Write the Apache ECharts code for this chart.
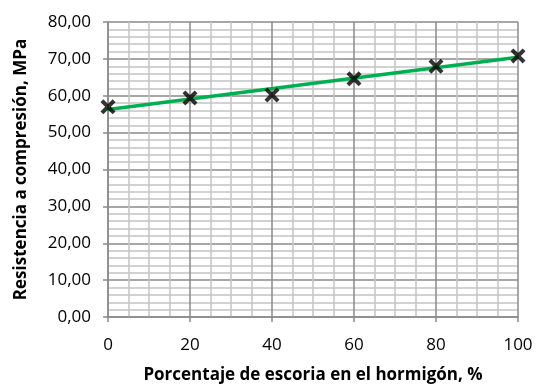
<!DOCTYPE html>
<html>
<head>
<meta charset="utf-8">
<script src="https://cdn.jsdelivr.net/npm/echarts@6/dist/echarts.min.js"></script>
<style>
  html, body { margin: 0; padding: 0; background: #fff; }
  #chart { width: 539px; height: 389px; }
</style>
</head>
<body>
<div id="chart"></div>
<script>
// Slag content in the concrete (%) and measured compressive strength (MPa)
const slagPercent = [0, 20, 40, 60, 80, 100];
const strengthMPa = [57.0, 59.4, 60.2, 64.6, 68.0, 70.8];

const xTitle = 'Porcentaje de escoria en el hormigón, %';
const yTitle = 'Resistencia a compresión, MPa';

// Least-squares linear trendline through the measured points
function linearFit(xs, ys) {
  const n = xs.length;
  const mx = xs.reduce((a, b) => a + b, 0) / n;
  const my = ys.reduce((a, b) => a + b, 0) / n;
  let sxy = 0, sxx = 0;
  for (let i = 0; i < n; i++) {
    sxy += (xs[i] - mx) * (ys[i] - my);
    sxx += (xs[i] - mx) * (xs[i] - mx);
  }
  const slope = sxy / sxx;
  return { slope, intercept: my - slope * mx };
}
const fit = linearFit(slagPercent, strengthMPa);
const xFirst = slagPercent[0], xLast = slagPercent[slagPercent.length - 1];
const trend = [
  [xFirst, fit.intercept + fit.slope * xFirst],
  [xLast, fit.intercept + fit.slope * xLast]
];

const points = slagPercent.map((x, i) => [x, strengthMPa[i]]);

// Bold "x" marker: two crossing diagonal bars
const crossPath = 'path://M0,1.9 L1.9,0 L5,3.1 L8.1,0 L10,1.9 L6.9,5 L10,8.1 L8.1,10 L5,6.9 L1.9,10 L0,8.1 L3.1,5 Z';

const FONT = '"Open Sans", "Liberation Sans", sans-serif';
const majorLine = { show: true, lineStyle: { color: '#8a8a8a', width: 1.5 } };
const minorLine = { show: true, lineStyle: { color: '#c4c4c4', width: 1.5 } };

const chart = echarts.init(document.getElementById('chart'), null, { renderer: 'canvas' });
chart.setOption({
  animation: false,
  backgroundColor: '#ffffff',
  grid: { left: 108, right: 21, top: 22, bottom: 70 },
  xAxis: {
    type: 'value',
    min: 0, max: 100, interval: 20,
    name: xTitle,
    nameLocation: 'middle',
    nameGap: 50,
    nameTextStyle: { fontFamily: FONT, fontSize: 17, fontWeight: 'bold', color: '#000' },
    axisLine: { show: true, onZero: false, lineStyle: { color: '#8a8a8a', width: 1.5 } },
    axisTick: { show: true, length: 5, lineStyle: { color: '#8a8a8a', width: 1.5 } },
    axisLabel: { fontFamily: FONT, fontSize: 17, color: '#000', margin: 20 },
    splitLine: majorLine,
    minorTick: { show: false, splitNumber: 4 },
    minorSplitLine: minorLine
  },
  yAxis: {
    type: 'value',
    min: 0, max: 80, interval: 10,
    name: yTitle,
    nameLocation: 'middle',
    nameGap: 78,
    nameRotate: 90,
    nameTextStyle: { fontFamily: FONT, fontSize: 17, fontWeight: 'bold', color: '#000' },
    axisLine: { show: true, lineStyle: { color: '#8a8a8a', width: 1.5 } },
    axisTick: { show: true, length: 5, lineStyle: { color: '#8a8a8a', width: 1.5 } },
    axisLabel: {
      fontFamily: FONT, fontSize: 17, color: '#000', margin: 17,
      formatter: v => v.toFixed(2).replace('.', ',')
    },
    splitLine: majorLine,
    minorTick: { show: false, splitNumber: 5 },
    minorSplitLine: minorLine
  },
  series: [
    {
      name: 'Tendencia',
      type: 'line',
      data: trend,
      symbol: 'none',
      lineStyle: { color: '#00b050', width: 3.5 },
      z: 3
    },
    {
      name: 'Resistencia',
      type: 'scatter',
      data: points,
      symbol: crossPath,
      symbolSize: 15,
      itemStyle: { color: '#000' },
      z: 4
    }
  ]
});
</script>
</body>
</html>
